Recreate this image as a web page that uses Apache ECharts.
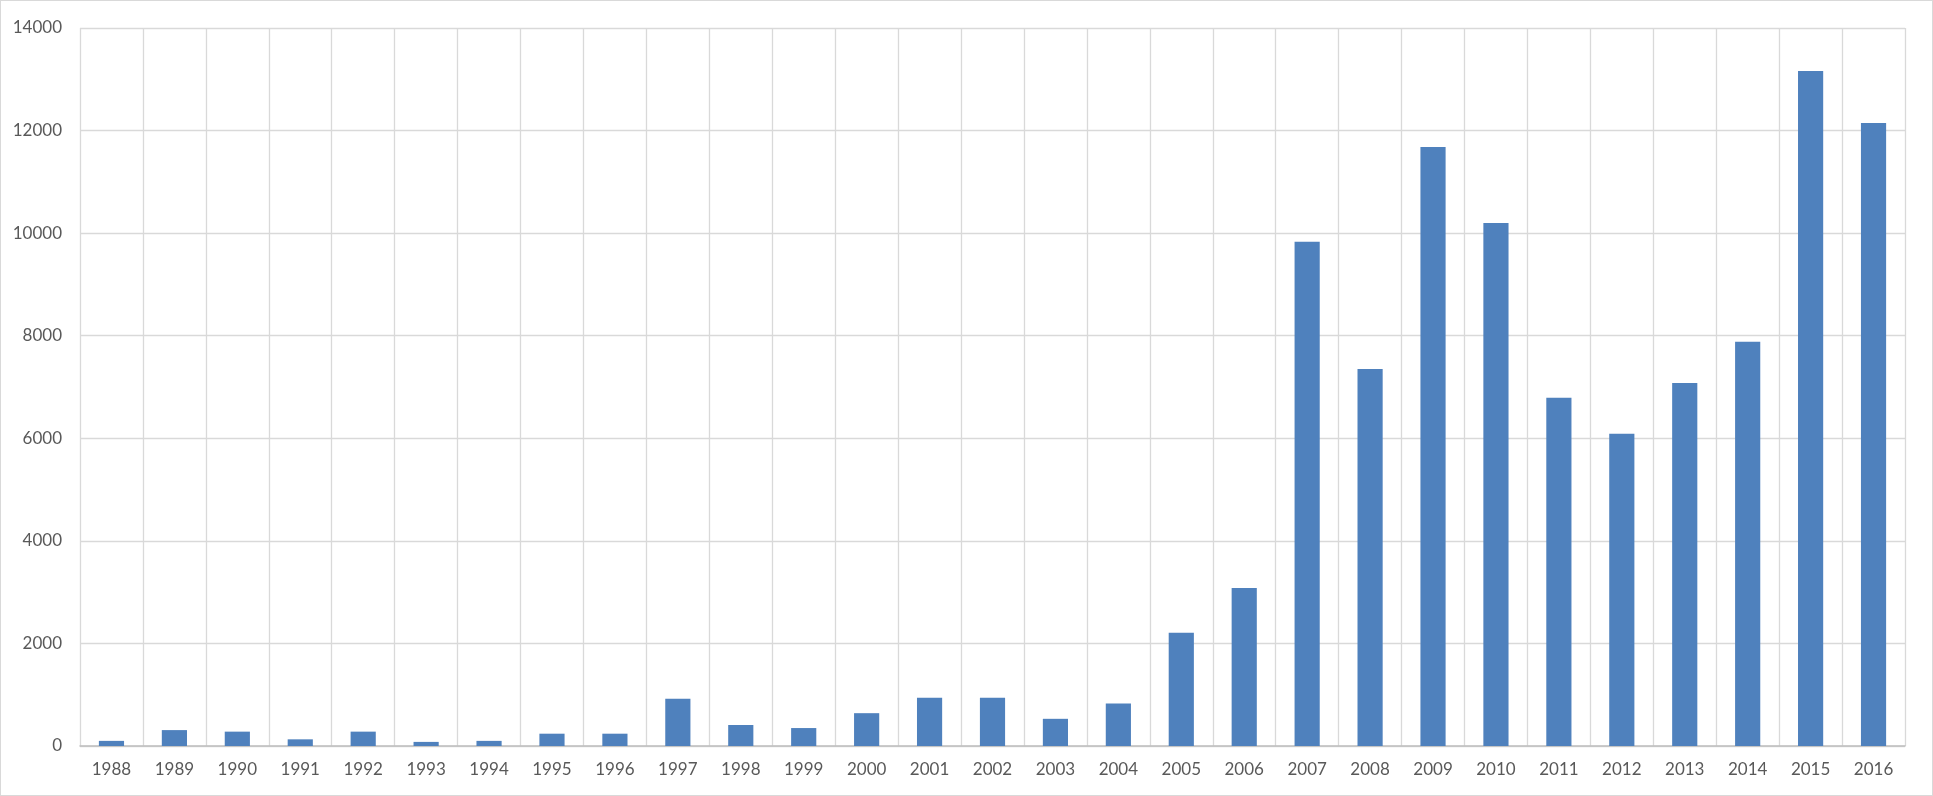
<!DOCTYPE html>
<html>
<head>
<meta charset="utf-8">
<script src="https://cdn.jsdelivr.net/npm/echarts@6/dist/echarts.min.js"></script>
<style>
html,body{margin:0;padding:0;background:#fff;}
#frame{position:absolute;left:0;top:0;width:1931px;height:794px;border:1px solid #d9d9d9;}
#chart{position:absolute;left:0;top:0;width:1933px;height:796px;}
</style>
</head>
<body>
<div id="frame"></div>
<div id="chart"></div>
<script>
const years = ['1988','1989','1990','1991','1992','1993','1994','1995','1996','1997','1998','1999','2000','2001','2002','2003','2004','2005','2006','2007','2008','2009','2010','2011','2012','2013','2014','2015','2016'];
const values = [100,310,280,130,280,80,100,240,240,920,410,350,640,940,940,530,830,2210,3080,9830,7350,11680,10200,6790,6090,7080,7880,13160,12150];
const yTicks = {min:0, max:14000, interval:2000};

const chart = echarts.init(document.getElementById('chart'));
chart.setOption({
  animation:false,
  grid:{left:80, right:28, top:28, bottom:50, containLabel:false},
  xAxis:{
    type:'category',
    data:years,
    boundaryGap:true,
    axisLine:{show:true, lineStyle:{color:'#bfbfbf', width:1.5}},
    axisTick:{show:false},
    axisLabel:{color:'#595959', fontFamily:'Lato', fontSize:17, margin:15, interval:0},
    splitLine:{show:true, interval:0, lineStyle:{color:'#d9d9d9', width:1.3}}
  },
  yAxis:{
    type:'value',
    min:yTicks.min, max:yTicks.max, interval:yTicks.interval,
    axisLine:{show:false},
    axisTick:{show:false},
    axisLabel:{color:'#595959', fontFamily:'Lato', fontSize:17, margin:18, formatter:function(v){return String(v);}},
    splitLine:{show:true, lineStyle:{color:'#d9d9d9', width:1.3}}
  },
  series:[{
    type:'bar',
    data:values,
    barWidth:'40%',
    itemStyle:{color:'#4f81bd'}
  }]
});
</script>
</body>
</html>
